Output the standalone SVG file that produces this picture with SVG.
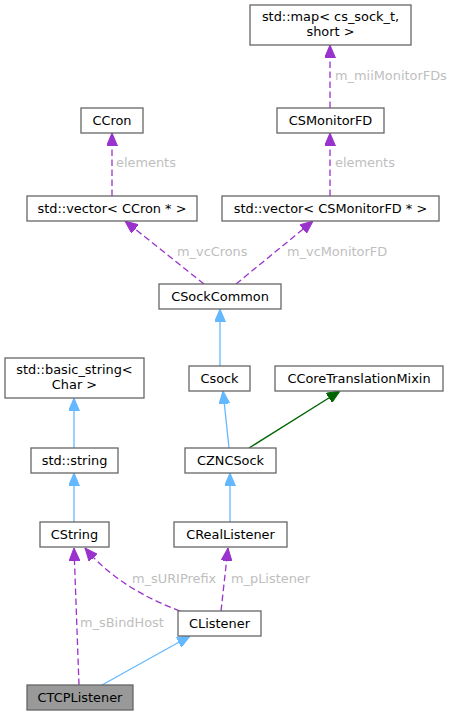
<svg xmlns="http://www.w3.org/2000/svg" width="457" height="716" viewBox="0 0 457 716">
<style>
.box{fill:#ffffff;stroke:#666666;stroke-width:1.3}
.focus{fill:#999999;stroke:#666666;stroke-width:1.3}
.t{font-family:"DejaVu Sans",sans-serif;font-size:12.9px;fill:#000000;text-anchor:middle}
.lbl{font-family:"DejaVu Sans",sans-serif;font-size:12.9px;fill:#bebebe}
.inh{fill:none;stroke:#63b8ff;stroke-width:1.3}
.use{fill:none;stroke:#9a32cd;stroke-width:1.3;stroke-dasharray:6.5,3.5}
.tmpl{fill:none;stroke:#006400;stroke-width:1.3}
</style>
<defs>
<marker id="ab" viewBox="0 0 13 11" refX="13" refY="5.5" markerWidth="13" markerHeight="11" markerUnits="userSpaceOnUse" orient="auto"><path d="M0,0 L13,5.5 L0,11 z" fill="#63b8ff" stroke="#63b8ff" stroke-width="1"/></marker>
<marker id="ap" viewBox="0 0 13 11" refX="13" refY="5.5" markerWidth="13" markerHeight="11" markerUnits="userSpaceOnUse" orient="auto"><path d="M0,0 L13,5.5 L0,11 z" fill="#9a32cd" stroke="#9a32cd" stroke-width="1"/></marker>
<marker id="ag" viewBox="0 0 13 11" refX="13" refY="5.5" markerWidth="13" markerHeight="11" markerUnits="userSpaceOnUse" orient="auto"><path d="M0,0 L13,5.5 L0,11 z" fill="#006400" stroke="#006400" stroke-width="1"/></marker>
</defs>
<g id="connectors">
<path class="use" d="M330,108 L330,45" marker-end="url(#ap)"/>
<text class="lbl" x="335" y="80">m_miiMonitorFDs</text>
<path class="use" d="M112,196 L112,133" marker-end="url(#ap)"/>
<text class="lbl" x="116" y="167">elements</text>
<path class="use" d="M330,196 L330,133" marker-end="url(#ap)"/>
<text class="lbl" x="335" y="167">elements</text>
<path class="use" d="M204,284 L125,221" marker-end="url(#ap)"/>
<text class="lbl" x="177" y="256">m_vcCrons</text>
<path class="use" d="M236,284 L313,221" marker-end="url(#ap)"/>
<text class="lbl" x="287" y="256">m_vcMonitorFD</text>
<path class="inh" d="M220,366 L220,309" marker-end="url(#ab)"/>
<path class="inh" d="M229,448 L223,391" marker-end="url(#ab)"/>
<path class="tmpl" d="M249,448 L340,391" marker-end="url(#ag)"/>
<path class="inh" d="M74,448 L74,398" marker-end="url(#ab)"/>
<path class="inh" d="M74,522 L74,473" marker-end="url(#ab)"/>
<path class="inh" d="M230,522 L230,473" marker-end="url(#ab)"/>
<path class="use" d="M79,685 L74,548" marker-end="url(#ap)"/>
<text class="lbl" x="80" y="627">m_sBindHost</text>
<path class="use" d="M180,611 C145,598 110,578 85,548" marker-end="url(#ap)"/>
<text class="lbl" x="132" y="583">m_sURIPrefix</text>
<path class="use" d="M221,611 L228,548" marker-end="url(#ap)"/>
<text class="lbl" x="231" y="583">m_pListener</text>
<path class="inh" d="M102,685 L190,636" marker-end="url(#ab)"/>
</g>
<g id="node-map"><rect class="box" x="250" y="5" width="161" height="40"/><text class="t" x="330.5" y="21">std::map&lt; cs_sock_t,</text><text class="t" x="330.5" y="36">short &gt;</text></g>
<g id="node-ccron"><rect class="box" x="81" y="108" width="62" height="25"/><text class="t" x="112" y="125">CCron</text></g>
<g id="node-csmonitorfd"><rect class="box" x="277" y="108" width="107" height="25"/><text class="t" x="330.5" y="125">CSMonitorFD</text></g>
<g id="node-vec-ccron"><rect class="box" x="27" y="196" width="170" height="25"/><text class="t" x="112" y="213">std::vector&lt; CCron * &gt;</text></g>
<g id="node-vec-csmonitorfd"><rect class="box" x="222" y="196" width="217" height="25"/><text class="t" x="330.5" y="213">std::vector&lt; CSMonitorFD * &gt;</text></g>
<g id="node-csockcommon"><rect class="box" x="159" y="284" width="122" height="25"/><text class="t" x="220" y="301">CSockCommon</text></g>
<g id="node-csock"><rect class="box" x="189" y="366" width="61" height="25"/><text class="t" x="219.5" y="383">Csock</text></g>
<g id="node-ccoretranslationmixin"><rect class="box" x="275" y="366" width="168" height="25"/><text class="t" x="359" y="383">CCoreTranslationMixin</text></g>
<g id="node-basic-string"><rect class="box" x="5" y="358" width="139" height="40"/><text class="t" x="74.5" y="374">std::basic_string&lt;</text><text class="t" x="74.5" y="389">Char &gt;</text></g>
<g id="node-std-string"><rect class="box" x="31" y="448" width="87" height="25"/><text class="t" x="74.5" y="465">std::string</text></g>
<g id="node-czncsock"><rect class="box" x="185" y="448" width="91" height="25"/><text class="t" x="230.5" y="465">CZNCSock</text></g>
<g id="node-cstring"><rect class="box" x="40" y="522" width="69" height="25"/><text class="t" x="74.5" y="539">CString</text></g>
<g id="node-creallistener"><rect class="box" x="174" y="522" width="113" height="25"/><text class="t" x="230.5" y="539">CRealListener</text></g>
<g id="node-clistener"><rect class="box" x="178" y="611" width="83" height="25"/><text class="t" x="219.5" y="628">CListener</text></g>
<g id="node-ctcplistener"><rect class="focus" x="27" y="685" width="106" height="25"/><text class="t" x="80" y="702">CTCPListener</text></g>
</svg>
